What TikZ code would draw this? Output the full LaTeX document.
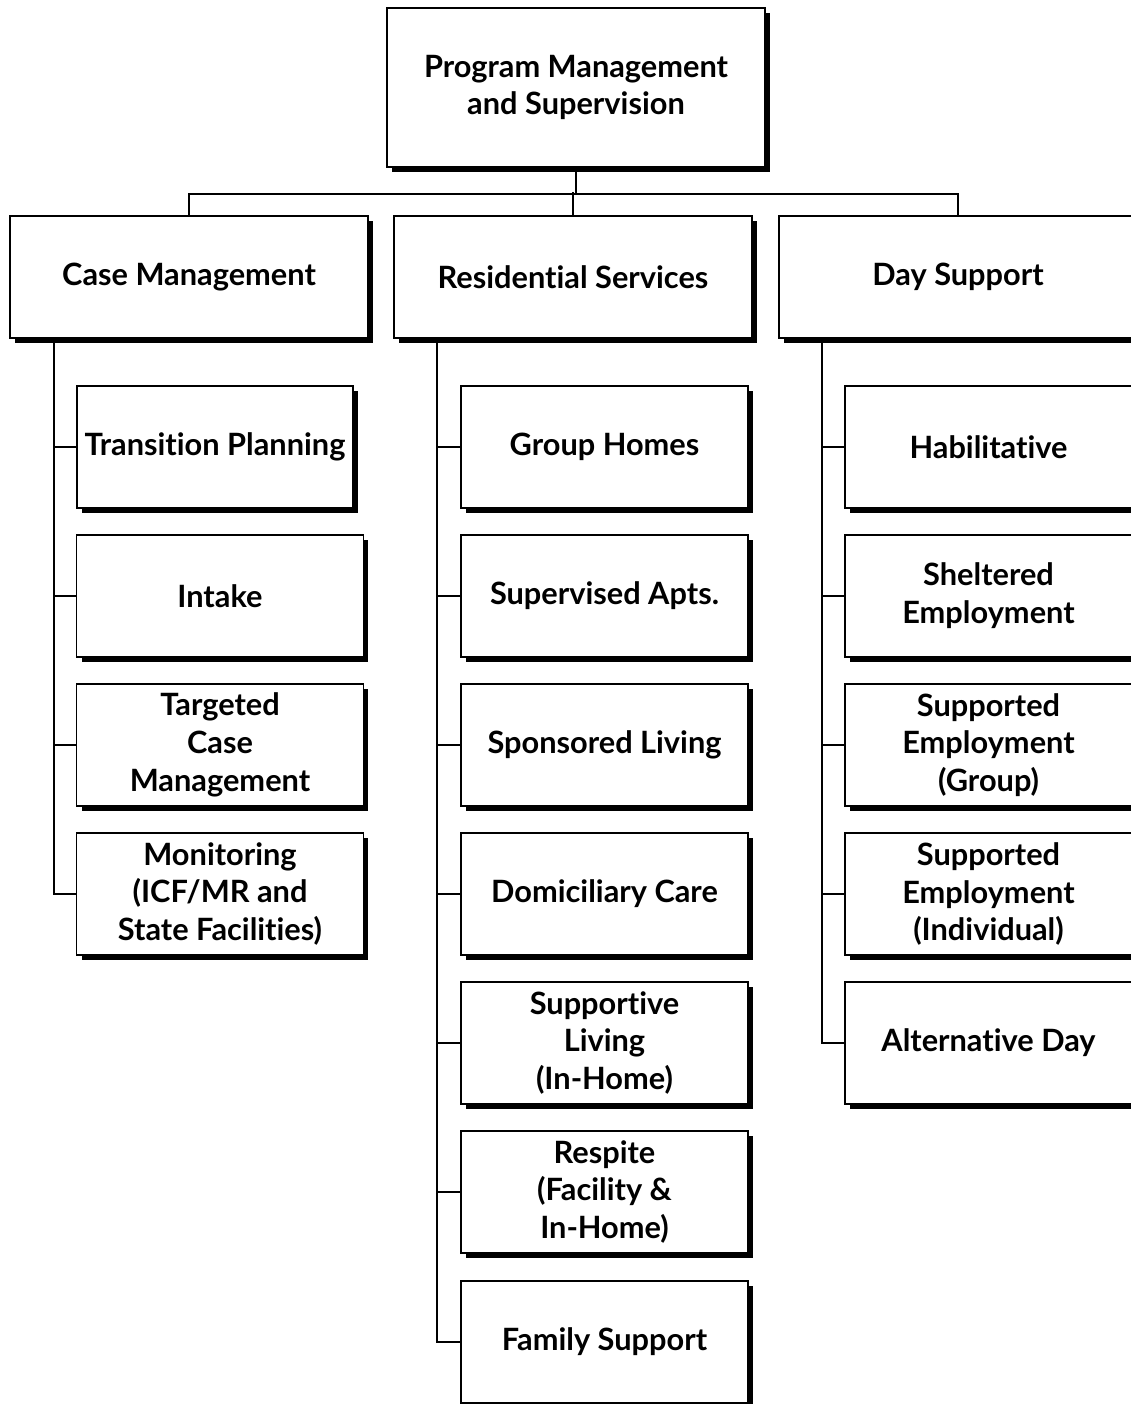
\documentclass[tikz,border=0pt]{standalone}
\usepackage{fontspec}
\setmainfont{Lato}[Ligatures={NoCommon,NoContextual}]
\usepackage{tikz}
\usetikzlibrary{shadows}
\definecolor{black}{rgb}{0,0,0}

\begin{document}
\begin{tikzpicture}[x=0.02cm,y=-0.02cm,line width=0.95pt,draw=black]
	\tikzstyle{every node}=[rectangle,draw=black,fill=white,text=black,align=center,inner sep=2pt,line width=0.95pt,
		font=\fontsize{17.5}{21.5}\selectfont\bfseries,
		drop shadow={shadow xshift=0.1cm,shadow yshift=-0.1cm,fill=black,opacity=1}]
	\tikzstyle{head} =[minimum width=7.56cm,minimum height=3.18cm]
	\tikzstyle{unit} =[minimum width=7.16cm,minimum height=2.44cm]
	\tikzstyle{sub} =[minimum width=5.74cm,minimum height=2.44cm]
	\useasboundingbox (0,0) rectangle (1130,1404);

	\node (PMS)[head] at (576,87.5) {Program Management\\and Supervision};

	\node (CM)[unit] at (189,277) {Case Management};
	\node (RS)[unit] at (573,277) {Residential Services};
	\node (DS)[unit] at (958,277) {Day Support};

	% case management
	\node (CM1)[sub,minimum width=5.52cm] at (215,447) {Transition Planning};
	\node (CM2)[sub] at (220,596) {Intake};
	\node (CM3)[sub] at (220,745) {Targeted\\Case\\Management};
	\node (CM4)[sub] at (220,894) {Monitoring\\(ICF/MR and\\State Facilities)};

	% residential services
	\node (RS1)[sub] at (604.5,447) {Group Homes};
	\node (RS2)[sub] at (604.5,596) {Supervised Apts.};
	\node (RS3)[sub] at (604.5,745) {Sponsored Living};
	\node (RS4)[sub] at (604.5,894) {Domiciliary Care};
	\node (RS5)[sub] at (604.5,1043) {Supportive\\Living\\(In-Home)};
	\node (RS6)[sub] at (604.5,1192) {Respite\\(Facility \&\\In-Home)};
	\node (RS7)[sub] at (604.5,1342) {Family Support};

	% day support
	\node (DS1)[sub] at (988.5,447) {Habilitative};
	\node (DS2)[sub] at (988.5,596) {Sheltered\\Employment};
	\node (DS3)[sub] at (988.5,745) {Supported\\Employment\\(Group)};
	\node (DS4)[sub] at (988.5,894) {Supported\\Employment\\(Individual)};
	\node (DS5)[sub] at (988.5,1043) {Alternative Day};

	\draw (PMS.south) -- ++(0,26) -| (CM.north);
	\draw (PMS.south) -- ++(0,26) -| (DS.north);
	\draw (RS.north) -- ++(0,-23);

	\draw (CM.south west) ++(45,0) |- (CM1.west);
	\draw (CM.south west) ++(45,0) |- (CM2.west);
	\draw (CM.south west) ++(45,0) |- (CM3.west);
	\draw (CM.south west) ++(45,0) |- (CM4.west);

	\draw (RS.south west) ++(44,0) |- (RS1.west);
	\draw (RS.south west) ++(44,0) |- (RS2.west);
	\draw (RS.south west) ++(44,0) |- (RS3.west);
	\draw (RS.south west) ++(44,0) |- (RS4.west);
	\draw (RS.south west) ++(44,0) |- (RS5.west);
	\draw (RS.south west) ++(44,0) |- (RS6.west);
	\draw (RS.south west) ++(44,0) |- (RS7.west);

	\draw (DS.south west) ++(44,0) |- (DS1.west);
	\draw (DS.south west) ++(44,0) |- (DS2.west);
	\draw (DS.south west) ++(44,0) |- (DS3.west);
	\draw (DS.south west) ++(44,0) |- (DS4.west);
	\draw (DS.south west) ++(44,0) |- (DS5.west);
\end{tikzpicture}
\end{document}
